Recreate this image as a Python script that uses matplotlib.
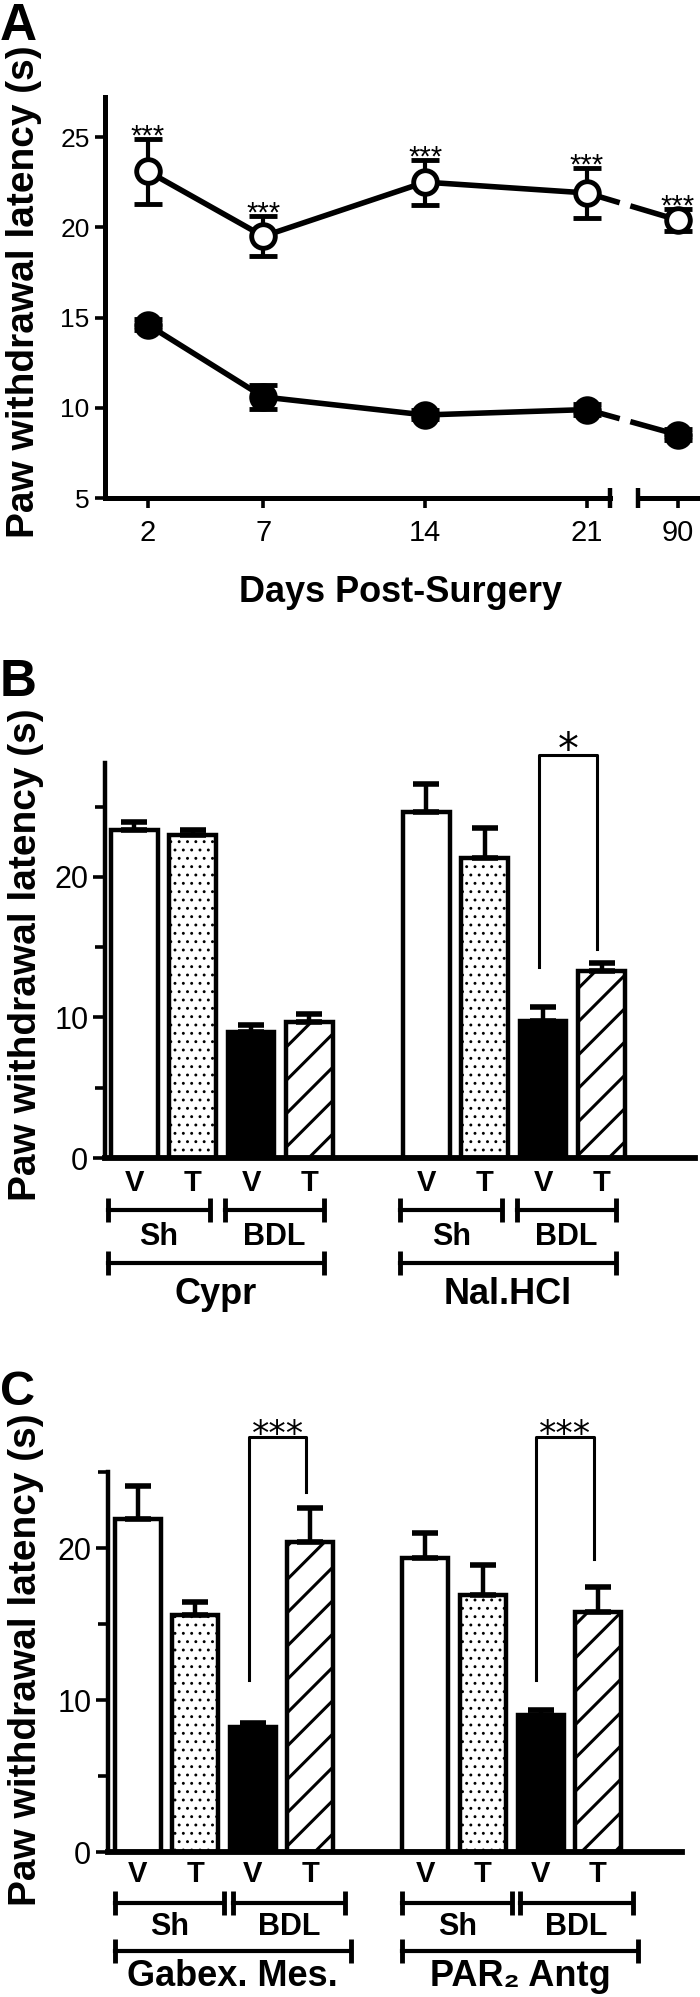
import matplotlib
matplotlib.use('Agg')
import matplotlib.pyplot as plt
import numpy as np
from matplotlib.lines import Line2D
from matplotlib.transforms import IdentityTransform, blended_transform_factory

plt.rcParams['font.family'] = ['Liberation Sans', 'DejaVu Sans']
plt.rcParams['hatch.linewidth'] = 2.2
plt.rcParams['hatch.color'] = 'black'

W, H, DPI = 700, 1997, 100

# ---------------- data ----------------
# Panel A
days = [2, 7, 14, 21, 90]
open_mean = [23.1, 19.5, 22.5, 21.9, 20.4]
open_err = [1.8, 1.1, 1.25, 1.4, 0.6]
filled_mean = [14.6, 10.6, 9.6, 9.9, 8.5]
filled_err = [0.3, 0.65, 0.25, 0.3, 0.3]
a_stars = ['***', '***', '***', '***', '***']
a_yticks = [5, 10, 15, 20, 25]
a_xlabel = 'Days Post-Surgery'
ylabel = 'Paw withdrawal latency (s)'

# Panel B / C shared labels
bar_labels = ['V', 'T', 'V', 'T']
sub_groups = ['Sh', 'BDL']

b_groups = ['Cypr', 'Nal.HCl']
b_means = [[23.35, 23.0, 8.97, 9.7], [24.6, 21.35, 9.75, 13.3]]
b_errs = [[0.55, 0.35, 0.5, 0.55], [2.0, 2.15, 1.0, 0.6]]
# (group, bar a, bar b, top, leg a bottom, leg b bottom, label)
b_brackets = [(1, 2, 3, 28.7, 13.6, 14.9, '*')]

c_groups = ['Gabex. Mes.', 'PAR\u2082 Antg']
c_means = [[21.9, 15.6, 8.2, 20.4], [19.35, 16.9, 9.0, 15.8]]
c_errs = [[2.2, 0.85, 0.3, 2.2], [1.65, 2.0, 0.35, 1.65]]
c_brackets = [(0, 2, 3, 27.3, 11.3, 23.7, '***'),
              (1, 2, 3, 27.3, 11.3, 19.3, '***')]

# ---------------- figure ----------------
fig = plt.figure(figsize=(W / DPI, H / DPI), dpi=DPI)


def px_axes(x0, y0, x1, y1):
    return fig.add_axes([x0 / W, 1 - y1 / H, (x1 - x0) / W, (y1 - y0) / H])


def figy(ypx):
    return 1 - ypx / H


# ---------------- Panel A ----------------
axA1 = px_axes(105, 97.3, 610, 498)
axA2 = px_axes(638, 97.3, 698, 498)
for ax in (axA1, axA2):
    ax.set_facecolor('none')
    ax.set_ylim(5, 27.2)
    for s in ('top', 'right'):
        ax.spines[s].set_visible(False)
    ax.spines['bottom'].set_linewidth(3.6)
    ax.spines['left'].set_linewidth(3.6)
    ax.tick_params(direction='out', length=7, width=2.6, labelsize=21, pad=8)
axA1.set_xlim(0.15, 22.0)
axA2.set_xlim(88.28, 90.87)
axA2.spines['left'].set_visible(False)
axA2.tick_params(axis='y', left=False, labelleft=False)
axA1.set_yticks(a_yticks)
axA1.tick_params(axis='y', labelsize=19, pad=4)

left = [i for i, d in enumerate(days) if d <= 21]
right = [i for i, d in enumerate(days) if d > 21]
axA1.set_xticks([days[i] for i in left])
axA2.set_xticks([days[i] for i in right])

common = dict(color='k', lw=4, elinewidth=3, capsize=10, capthick=3.5, mew=3.5, ms=17, clip_on=False)
for ax, idx in ((axA1, left), (axA2, right)):
    xs = [days[i] for i in idx]
    ax.errorbar(xs, [filled_mean[i] for i in idx], yerr=[filled_err[i] for i in idx],
                fmt='o-', mfc='k', mec='k', **common)
    ax.errorbar(xs, [open_mean[i] for i in idx], yerr=[open_err[i] for i in idx],
                fmt='o-', mfc='white', mec='k', **common)
    for i in idx:
        ax.annotate(a_stars[i], xy=(days[i], open_mean[i] + open_err[i]), xytext=(0, -4),
                    textcoords='offset points', ha='center', va='baseline', fontsize=21,
                    annotation_clip=False)

# break caps
axA1.plot([1], [0], marker='|', ms=14, mew=3.2, color='k', transform=axA1.transAxes, clip_on=False)
axA2.plot([0], [0], marker='|', ms=14, mew=3.2, color='k', transform=axA2.transAxes, clip_on=False)

# connecting lines across the axis break
i_l, i_r = left[-1], right[0]
for series in (open_mean, filled_mean):
    pa = axA1.transData.transform((days[i_l], series[i_l]))
    pb = axA2.transData.transform((days[i_r], series[i_r]))
    xl = axA1.bbox.x1 + 7
    xr = axA2.bbox.x0 - 5
    yl = pa[1] + (pb[1] - pa[1]) * (xl - pa[0]) / (pb[0] - pa[0])
    yr = pa[1] + (pb[1] - pa[1]) * (xr - pa[0]) / (pb[0] - pa[0])
    fig.add_artist(Line2D([pa[0], xl], [pa[1], yl], transform=IdentityTransform(), color='k', lw=4, zorder=-1))
    fig.add_artist(Line2D([xr, pb[0]], [yr, pb[1]], transform=IdentityTransform(), color='k', lw=4, zorder=-1))

fig.text(401 / W, figy(592), a_xlabel, ha='center', va='center', fontsize=26, weight='bold')
fig.text(24 / W, figy(292), ylabel, rotation=90, ha='center', va='center', fontsize=28, weight='bold')
fig.text(0 / W, figy(2), 'A', ha='left', va='top', fontsize=37, weight='bold')

# ---------------- Panels B and C ----------------
faces = ['white', 'white', 'black', 'white']
hatches = [None, '..', None, '/']
hatch_lw = [1.0, 0.9, 1.0, 2.2]


def bar_panel(box, means, errs, groups, brackets, ylim, xlim, minor, rows, spans,
              star_size, label_y, letter, letter_y, letter_size):
    ax = px_axes(*box)
    ax.set_ylim(*ylim)
    ax.set_xlim(*xlim)
    for s in ('top', 'right'):
        ax.spines[s].set_visible(False)
    ax.spines['left'].set_linewidth(3.2)
    ax.spines['bottom'].set_linewidth(4.2)
    ax.set_xticks([])
    ax.set_yticks([0, 10, 20])
    ax.set_yticks(minor, minor=True)
    ax.tick_params(axis='y', which='major', direction='out', length=9, width=2.6, labelsize=22, pad=3)
    ax.tick_params(axis='y', which='minor', direction='out', length=7, width=2.6)

    tr = blended_transform_factory(ax.transData, fig.transFigure)
    for g, (m, e) in enumerate(zip(means, errs)):
        xs = [g * 5 + i for i in range(len(m))]
        for i in range(len(m)):
            with plt.rc_context({'hatch.linewidth': hatch_lw[i]}):
                bars = ax.bar(xs[i], m[i], width=0.8, color=faces[i], edgecolor='k', lw=3.2,
                              hatch=hatches[i], zorder=2)
            for p in bars:
                if hasattr(p, 'set_hatch_linewidth'):
                    p.set_hatch_linewidth(hatch_lw[i])
        ax.errorbar(xs, m, yerr=[np.zeros(len(m)), e], fmt='none', ecolor='k', elinewidth=3.2,
                    capsize=9.5, capthick=4, zorder=3)
        # under-axis labels
        for i, x in enumerate(xs):
            ax.text(x, figy(rows[0]), bar_labels[i], transform=tr, ha='center', va='center',
                    fontsize=21, weight='bold')
        g0 = g * 5
        (s0, s1), (d0, d1), (t0, t1) = spans
        for (a, b), name in zip(((s0, s1), (d0, d1)), sub_groups):
            ax.plot([g0 + a, g0 + b], [figy(rows[1])] * 2, transform=tr, color='k', lw=3,
                    marker='|', ms=17, mew=3.5, clip_on=False)
            ax.text(g0 + (a + b) / 2, figy(rows[2]), name, transform=tr, ha='center',
                    va='center', fontsize=22, weight='bold')
        ax.plot([g0 + t0, g0 + t1], [figy(rows[3])] * 2, transform=tr, color='k', lw=3,
                marker='|', ms=17, mew=3.5, clip_on=False)
        ax.text(g0 + (t0 + t1) / 2, figy(rows[4]), groups[g], transform=tr, ha='center',
                va='center', fontsize=26, weight='bold')

    for g, a, b, top, la, lb, lab in brackets:
        xa = g * 5 + a - 0.07
        xb = g * 5 + b - 0.07
        ax.plot([xa, xa, xb, xb], [la, top, top, lb], color='k', lw=2.2, clip_on=False, zorder=4)
        ax.annotate(lab, xy=((xa + xb) / 2, top), xytext=(0, -6), textcoords='offset points',
                    ha='center', va='baseline', fontsize=star_size, family='DejaVu Sans',
                    annotation_clip=False)

    fig.text(26 / W, figy(label_y), ylabel, rotation=90, ha='center', va='center',
             fontsize=28, weight='bold')
    fig.text(0 / W, figy(letter_y), letter, ha='left', va='top', fontsize=letter_size, weight='bold')
    return ax


bar_panel((105, 763, 695, 1158), b_means, b_errs, b_groups, b_brackets,
          ylim=(0, 28.1), xlim=(-0.5, 9.6), minor=[5, 15, 25],
          rows=(1183, 1210, 1237, 1263, 1295),
          spans=((-0.45, 1.3), (1.55, 3.25), (-0.45, 3.25)),
          star_size=30, label_y=955, letter='B', letter_y=658, letter_size=37)

bar_panel((108, 1472, 682, 1852), c_means, c_errs, c_groups, c_brackets,
          ylim=(0, 25), xlim=(-0.52, 9.46), minor=[5, 15, 25],
          rows=(1874, 1903, 1927, 1951, 1977),
          spans=((-0.4, 1.5), (1.65, 3.6), (-0.4, 3.7)),
          star_size=25, label_y=1660, letter='C', letter_y=1370, letter_size=35)

fig.savefig('out.png', dpi=DPI)
